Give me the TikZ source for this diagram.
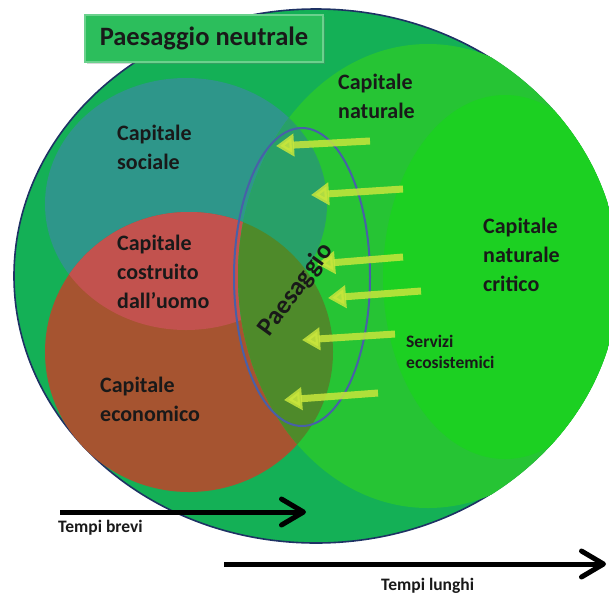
\documentclass[tikz,border=0pt]{standalone}
\usepackage{fontspec}
\setmainfont{Carlito}
\usetikzlibrary{arrows.meta,shadows}
\definecolor{outerG}{RGB}{20,176,86}
\definecolor{natG}{RGB}{38,196,52}
\definecolor{critG}{RGB}{28,208,34}
\definecolor{tealC}{RGB}{46,150,138}
\definecolor{pinkR}{RGB}{194,82,78}
\definecolor{brownR}{RGB}{166,84,48}
\definecolor{oliveC}{RGB}{78,138,42}
\definecolor{natTeal}{RGB}{40,160,104}
\definecolor{yellowA}{RGB}{200,230,60}
\definecolor{ellBlue}{RGB}{72,96,168}
\definecolor{navyC}{RGB}{30,50,100}
\definecolor{boxG}{RGB}{44,190,92}
\begin{document}
\begin{tikzpicture}[x=1pt,y=-1pt,
  lbl/.style={font=\bfseries\fontsize{22}{29}\selectfont, align=left, inner sep=0pt, anchor=base west, text=black!90},
  smalllbl/.style={font=\bfseries\fontsize{17.5}{21}\selectfont, align=left, inner sep=0pt, anchor=base west, text=black!90},
  yarrow/.style={draw=yellowA, draw opacity=0.85, fill opacity=0.85, line width=7pt, -{Triangle[length=18pt,width=22pt]}},
  barrow/.style={draw=black, line width=5pt, -{Straight Barb[length=22pt,width=26pt,round]}},
  titlebox/.style={fill=boxG, draw=boxG!70!white, line width=1.5pt, minimum width=238pt, minimum height=47pt, inner sep=0pt, drop shadow={shadow xshift=2pt, shadow yshift=-2pt, opacity=0.3}, font=\bfseries\fontsize{26.5}{30}\selectfont, text=black!90}
]
\useasboundingbox (0,0) rectangle (609,595);
\clip (0,0) rectangle (609,595);
\fill[white] (0,0) rectangle (609,595);
% outer circle
\fill[outerG] (316,276) ellipse [x radius=302, y radius=267];
\draw[navyC, line width=1.6pt] (316,276) ellipse [x radius=302, y radius=267];
% social
\fill[tealC] (186,204) ellipse [x radius=141, y radius=126];
% economic (red)
\fill[brownR] (189,352) ellipse [x radius=144, y radius=140];
\begin{scope}
  \clip (186,204) ellipse [x radius=141, y radius=126];
  \fill[pinkR] (189,352) ellipse [x radius=144, y radius=140];
\end{scope}
\begin{scope}
  \clip (316,276) ellipse [x radius=303, y radius=268];
  % natural
  \fill[natG] (428,276) ellipse [x radius=190, y radius=232];
  \begin{scope}
    \clip (428,276) ellipse [x radius=190, y radius=232];
    \fill[natTeal] (186,204) ellipse [x radius=141, y radius=126];
    \fill[oliveC] (189,352) ellipse [x radius=144, y radius=140];
  \end{scope}
  % critical
  \fill[critG] (505,277) ellipse [x radius=122, y radius=182];
\end{scope}
% Paesaggio ellipse
\draw[ellBlue, line width=2pt] (302,277) ellipse [x radius=68, y radius=149];
% yellow arrows
\coordinate (t1) at (370,141); \coordinate (h1) at (276,146);
\coordinate (t2) at (403,189); \coordinate (h2) at (311,195);
\coordinate (t3) at (403,257); \coordinate (h3) at (317,264);
\coordinate (t4) at (421,291); \coordinate (h4) at (328,298);
\coordinate (t5) at (395,334); \coordinate (h5) at (302,340);
\coordinate (t6) at (378,393); \coordinate (h6) at (284,400);
\foreach \i in {1,...,6} { \draw[yarrow] (t\i) -- (h\i); }
% labels (anchored at the baseline of the last line)
\node[lbl] (cnat) at (338,118) {Capitale\\naturale};
\node[lbl] (csoc) at (117,169) {Capitale\\sociale};
\node[lbl] (ccos) at (117,308) {Capitale\\costruito\\dall’uomo};
\node[lbl] (ceco) at (100,421) {Capitale\\economico};
\node[lbl] (ccrit) at (483,291) {Capitale\\naturale\\critico};
\node[smalllbl] (serv) at (406,368) {Servizi\\ecosistemici};
\node[font=\bfseries\fontsize{26}{30}\selectfont, text=black!90, rotate=54, inner sep=0pt] (paes) at (296,290) {Paesaggio};
% title
\node[titlebox] (title) at (204,38.5) {Paesaggio neutrale};
% time arrows
\coordinate (b0) at (60,512); \coordinate (b1) at (306,512);
\coordinate (l0) at (224,564); \coordinate (l1) at (606,564);
\draw[barrow] (b0) -- (b1);
\draw[barrow] (l0) -- (l1);
\node[smalllbl] (tb) at (58,532) {Tempi brevi};
\node[smalllbl] (tl) at (381,590) {Tempi lunghi};
\end{tikzpicture}
\end{document}
